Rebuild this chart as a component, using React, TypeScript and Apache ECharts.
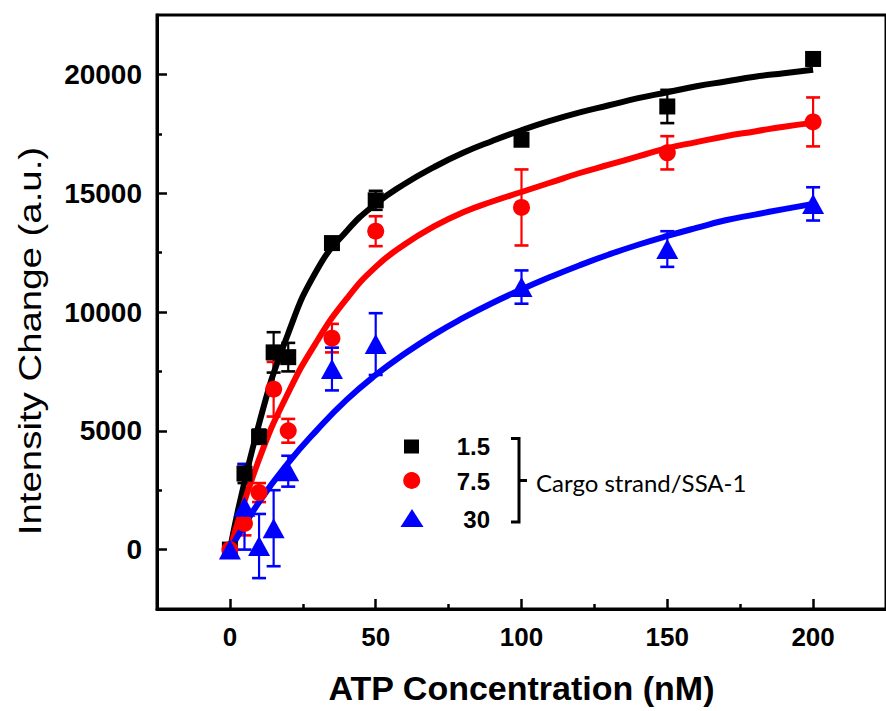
import React, { useEffect, useRef } from "react";
import * as echarts from "echarts";

// ATP concentrations (nM) of the measured points
const concentrations = [0, 5, 10, 15, 20, 35, 50, 100, 150, 200];

// Measured intensity change (a.u.) and error for each cargo strand/SSA-1 ratio
const ratio15Values = [0, 3200, 4750, 8300, 8100, 12900, 14700, 17250, 18650, 20650];
const ratio15Errors = [0, 400, 300, 850, 600, 250, 400, 250, 700, 250];
const ratio75Values = [0, 1100, 2400, 6750, 5000, 8900, 13400, 14400, 16700, 18000];
const ratio75Errors = [0, 500, 400, 1150, 500, 600, 630, 1600, 700, 1030];
const ratio30Values = [0, 1800, 150, 900, 3300, 7600, 8650, 11050, 12650, 14550];
const ratio30Errors = [0, 1800, 1350, 1600, 650, 900, 1300, 700, 750, 700];

// Fitted curves at even steps of 10 nM
const fitConcentrations = [0, 10, 20, 30, 40, 50, 60, 70, 80, 90, 100, 110, 120, 130, 140, 150, 160, 170, 180, 190, 200];
const fit15 = [0, 5300, 9100, 11800, 13400, 14550, 15400, 16100, 16700, 17200, 17650, 18050, 18400, 18700, 19000, 19250, 19500, 19700, 19900, 20050, 20200];
const fit75 = [0, 3800, 6600, 8800, 10550, 11900, 12850, 13600, 14200, 14650, 15050, 15450, 15850, 16200, 16550, 16900, 17150, 17400, 17600, 17800, 17960];
const fit30 = [0, 2000, 3650, 5050, 6300, 7350, 8250, 9050, 9750, 10380, 10950, 11480, 11970, 12420, 12830, 13200, 13540, 13860, 14100, 14330, 14550];

// Axis ticks
const xTickValues = [0, 50, 100, 150, 200];
const xMinorTickValues = [25, 75, 125, 175];
const yTickValues = [0, 5000, 10000, 15000, 20000];
const yMinorTickValues = [2500, 7500, 12500, 17500];

const seriesNames = ["1.5", "7.5", "30"];
const colors = ["#000000", "#ff0000", "#0000ff"];

const FONT = '"Liberation Sans", Arial, sans-serif';

function errorSeries(name: string, values: number[], errors: number[], color: string) {
  return {
    name: name + " error",
    type: "custom",
    z: 2,
    silent: true,
    encode: { x: 0, y: 1 },
    data: concentrations.map((x, i) => [x, values[i], errors[i]]),
    renderItem: (_params: any, api: any) => {
      const x = api.value(0);
      const y = api.value(1);
      const e = api.value(2);
      if (!e) return { type: "group", children: [] };
      const top = api.coord([x, y + e]);
      const bot = api.coord([x, y - e]);
      const hw = 7;
      const style = { stroke: color, lineWidth: 2.2 };
      return {
        type: "group",
        children: [
          { type: "line", shape: { x1: top[0], y1: top[1], x2: bot[0], y2: bot[1] }, style },
          { type: "line", shape: { x1: top[0] - hw, y1: top[1], x2: top[0] + hw, y2: top[1] }, style: { stroke: color, lineWidth: 2.6 } },
          { type: "line", shape: { x1: bot[0] - hw, y1: bot[1], x2: bot[0] + hw, y2: bot[1] }, style: { stroke: color, lineWidth: 2.6 } },
        ],
      };
    },
  };
}

function fitSeries(name: string, values: number[], color: string) {
  return {
    name: name + " fit",
    type: "line",
    z: 3,
    silent: true,
    smooth: 0.5,
    showSymbol: false,
    data: fitConcentrations.map((x, i) => [x, values[i]]),
    lineStyle: { color, width: 6 },
  };
}

function pointSeries(name: string, values: number[], color: string, symbol: string, size: any) {
  return {
    name,
    type: "scatter",
    z: 4,
    symbol,
    symbolSize: size,
    data: concentrations.map((x, i) => [x, values[i]]),
    itemStyle: { color, opacity: 1 },
  };
}

export default function App() {
  const ref = useRef<HTMLDivElement>(null);

  useEffect(() => {
    if (!ref.current) return;
    const chart = echarts.init(ref.current, undefined, { renderer: "svg" });

    const axisLineStyle = { color: "#000", width: 3 };
    const tickLineStyle = { color: "#000", width: 2.5 };

    const option: any = {
      animation: false,
      backgroundColor: "#ffffff",
      grid: {
        left: 157,
        right: -12,
        top: 15,
        bottom: 102,
        show: true,
        borderColor: "#000",
        borderWidth: 3,
        backgroundColor: "transparent",
      },
      xAxis: [
        {
          type: "value",
          position: "bottom",
          min: -25,
          max: 225,
          axisLine: { show: true, onZero: false, lineStyle: axisLineStyle },
          axisTick: { show: true, inside: true, length: 10, lineStyle: tickLineStyle, customValues: xTickValues },
          axisLabel: {
            customValues: xTickValues,
            formatter: (v: number) => String(v),
            color: "#000",
            fontFamily: FONT,
            fontWeight: "bold",
            fontSize: 26,
            margin: 15,
          },
          splitLine: { show: false },
          name: "ATP Concentration (nM)",
          nameLocation: "middle",
          nameGap: 62,
          nameTextStyle: { color: "#000", fontFamily: FONT, fontWeight: "bold", fontSize: 34 },
        },
        {
          type: "value",
          position: "bottom",
          min: -25,
          max: 225,
          axisLine: { show: false, onZero: false },
          axisTick: { show: true, inside: true, length: 5, lineStyle: tickLineStyle, customValues: xMinorTickValues },
          axisLabel: { show: false },
          splitLine: { show: false },
        },
      ],
      yAxis: [
        {
          type: "value",
          position: "left",
          min: -2500,
          max: 22500,
          axisLine: { show: true, onZero: false, lineStyle: axisLineStyle },
          axisTick: { show: true, inside: true, length: 10, lineStyle: tickLineStyle, customValues: yTickValues },
          axisLabel: {
            customValues: yTickValues,
            formatter: (v: number) => String(v),
            color: "#000",
            fontFamily: FONT,
            fontWeight: "bold",
            fontSize: 28,
            margin: 15,
          },
          splitLine: { show: false },
        },
        {
          type: "value",
          position: "left",
          min: -2500,
          max: 22500,
          axisLine: { show: false, onZero: false },
          axisTick: { show: true, inside: true, length: 5, lineStyle: tickLineStyle, customValues: yMinorTickValues },
          axisLabel: { show: false },
          splitLine: { show: false },
        },
      ],
      graphic: [
        {
          type: "text",
          x: 30,
          y: 341,
          rotation: Math.PI / 2,
          scaleX: 1.2,
          style: {
            text: "Intensity Change (a.u.)",
            font: '32px "Liberation Sans", Arial, sans-serif',
            fill: "#000",
            align: "center",
            verticalAlign: "middle",
          },
        },
        // legend symbols
        { type: "rect", shape: { x: 404, y: 439.5, width: 15, height: 14 }, style: { fill: colors[0] } },
        { type: "circle", shape: { cx: 411.7, cy: 480.5, r: 8.5 }, style: { fill: colors[1] } },
        { type: "polygon", shape: { points: [[400.5, 527], [423.5, 527], [412, 509]] }, style: { fill: colors[2] } },
        // legend labels
        ...seriesNames.map((n, i) => ({
          type: "text",
          x: 490,
          y: [446, 481, 519][i],
          style: {
            text: n,
            font: 'bold 24px "Liberation Sans", Arial, sans-serif',
            fill: "#000",
            align: "right",
            verticalAlign: "middle",
          },
        })),
        // bracket
        {
          type: "polyline",
          shape: { points: [[511, 438.5], [519, 438.5], [519, 522], [511, 522]] },
          style: { stroke: "#000", lineWidth: 3, fill: null },
        },
        { type: "line", shape: { x1: 519, y1: 480.5, x2: 527, y2: 480.5 }, style: { stroke: "#000", lineWidth: 3 } },
        {
          type: "text",
          x: 536,
          y: 482,
          style: {
            text: "Cargo strand/SSA-1",
            font: '24px Lato, "Open Sans", sans-serif',
            fill: "#000",
            align: "left",
            verticalAlign: "middle",
          },
        },
      ],
      series: [
        errorSeries(seriesNames[0], ratio15Values, ratio15Errors, colors[0]),
        errorSeries(seriesNames[1], ratio75Values, ratio75Errors, colors[1]),
        errorSeries(seriesNames[2], ratio30Values, ratio30Errors, colors[2]),
        fitSeries(seriesNames[0], fit15, colors[0]),
        fitSeries(seriesNames[1], fit75, colors[1]),
        fitSeries(seriesNames[2], fit30, colors[2]),
        pointSeries(seriesNames[0], ratio15Values, colors[0], "rect", 16),
        pointSeries(seriesNames[1], ratio75Values, colors[1], "circle", 17),
        pointSeries(seriesNames[2], ratio30Values, colors[2], "triangle", [22, 20]),
      ],
    };

    chart.setOption(option);
    return () => chart.dispose();
  }, []);

  return (
    <div
      ref={ref}
      style={{ position: "fixed", left: 0, top: 0, width: 886, height: 711, background: "#fff" }}
    />
  );
}
